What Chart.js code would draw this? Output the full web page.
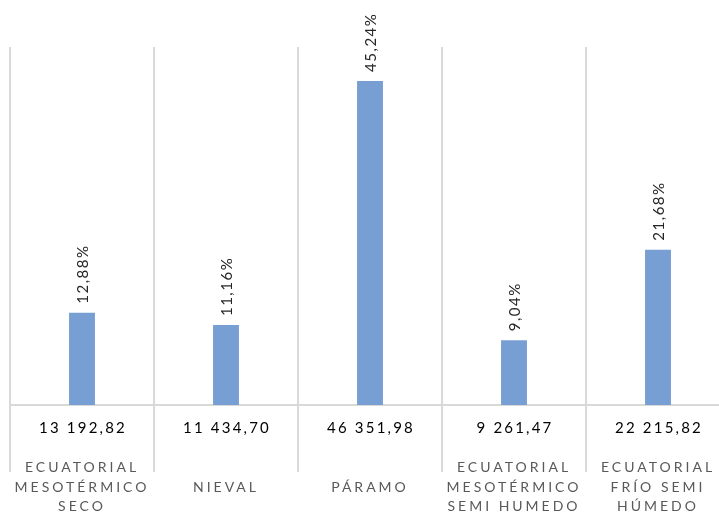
<!DOCTYPE html>
<html>
<head>
<meta charset="utf-8">
<script src="https://cdn.jsdelivr.net/npm/chart.js@4.4.0/dist/chart.umd.min.js"></script>
<style>
  html, body { margin: 0; padding: 0; background: #fff; }
  #wrap { width: 719px; height: 515px; overflow: hidden; position: relative; }
  canvas { display: block; }
</style>
</head>
<body>
<div id="wrap"><canvas id="chart" width="731" height="515"></canvas></div>
<script>
// datos
const categories = [
  ["ECUATORIAL", "MESOTÉRMICO", "SECO"],
  ["NIEVAL"],
  ["PÁRAMO"],
  ["ECUATORIAL", "MESOTÉRMICO", "SEMI HUMEDO"],
  ["ECUATORIAL", "FRÍO SEMI", "HÚMEDO"]
];
const areas = [13192.82, 11434.70, 46351.98, 9261.47, 22215.82];
const areaLabels = ["13 192,82", "11 434,70", "46 351,98", "9 261,47", "22 215,82"];
const percentLabels = ["12,88%", "11,16%", "45,24%", "9,04%", "21,68%"];

const FONT = "Lato, 'Liberation Sans', sans-serif";

// tabla y etiquetas de porcentaje
const tablePlugin = {
  id: "tablePlugin",
  afterDraw(chart) {
    const ctx = chart.ctx;
    const xScale = chart.scales.x;
    const meta = chart.getDatasetMeta(0);
    const bottom = chart.chartArea.bottom;

    ctx.save();
    meta.data.forEach((bar, i) => {
      // porcentaje vertical
      ctx.save();
      ctx.translate(bar.x, bar.y - 9);
      ctx.rotate(-Math.PI / 2);
      ctx.font = "15px " + FONT;
      ctx.letterSpacing = "1.5px";
      ctx.fillStyle = "#262626";
      ctx.textAlign = "left";
      ctx.textBaseline = "middle";
      ctx.fillText(percentLabels[i], 0, 1);
      ctx.restore();

      const x = xScale.getPixelForValue(i);

      // valor de area
      ctx.font = "15px " + FONT;
      ctx.letterSpacing = "2.2px";
      ctx.fillStyle = "#000";
      ctx.textAlign = "center";
      ctx.textBaseline = "middle";
      ctx.fillText(areaLabels[i], x + 1, bottom + 23);

      // categoria
      ctx.font = "14px " + FONT;
      ctx.letterSpacing = "3px";
      ctx.fillStyle = "#595959";
      const lines = categories[i];
      const lh = 19.5;
      const mid = bottom + 82;
      lines.forEach((t, j) => {
        const y = mid + (j - (lines.length - 1) / 2) * lh;
        ctx.fillText(t, x, y);
      });
    });
    ctx.restore();
  }
};

new Chart(document.getElementById("chart"), {
  type: "bar",
  data: {
    labels: categories.map(c => c.join(" ")),
    datasets: [{
      data: areas,
      backgroundColor: "#789fd3",
      borderWidth: 0,
      barPercentage: 0.18,
      categoryPercentage: 1
    }]
  },
  options: {
    responsive: false,
    animation: false,
    layout: { padding: { top: 47, left: 10, right: 1, bottom: 43 } },
    plugins: {
      legend: { display: false },
      tooltip: { enabled: false }
    },
    scales: {
      x: {
        offset: true,
        grid: {
          offset: true,
          color: "#d9d9d9",
          lineWidth: 2,
          drawTicks: true,
          tickLength: 67
        },
        border: { display: true, color: "#d9d9d9", width: 2 },
        ticks: { display: false }
      },
      y: {
        display: false,
        min: 0,
        max: 51200
      }
    }
  },
  plugins: [tablePlugin]
});
</script>
</body>
</html>
